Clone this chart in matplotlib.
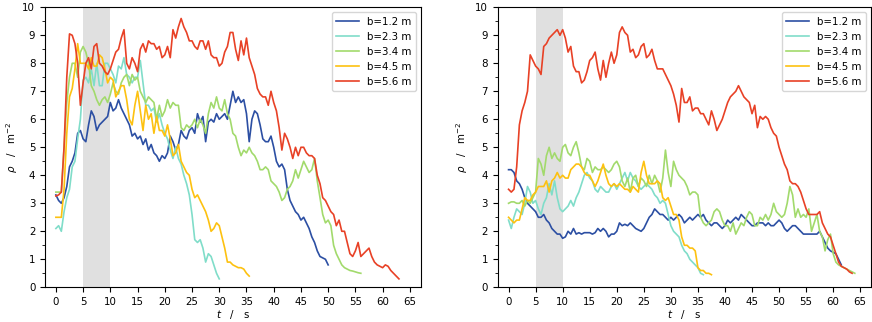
import numpy as np
import matplotlib
matplotlib.use("Agg")
import matplotlib.pyplot as plt
from matplotlib.ticker import MultipleLocator

# ---------------- data (sampled every 0.5 s, starting at t=0) ----------------
dt = 0.5
labels = ["b=1.2 m", "b=2.3 m", "b=3.4 m", "b=4.5 m", "b=5.6 m"]
colors = ["#2c4fa3", "#80ddc9", "#a2da6c", "#fdc110", "#e84126"]

# Left panel
L_b12 = [3.3, 3.1, 3.0, 3.2, 3.6, 4.3, 4.5, 4.8, 5.5, 5.6, 5.3, 5.2, 5.8, 6.3, 6.1, 5.6,
         5.8, 5.9, 6.0, 6.1, 6.6, 6.3, 6.4, 6.7, 6.4, 6.2, 6.0, 5.8, 5.4, 5.5, 5.3, 5.4,
         5.1, 5.3, 4.9, 5.1, 4.8, 4.7, 4.5, 4.7, 4.6, 4.8, 5.4, 5.2, 4.9, 5.1, 5.6, 5.4,
         5.3, 5.6, 5.7, 5.5, 6.2, 5.9, 6.1, 5.2, 5.9, 6.0, 5.9, 6.2, 6.0, 6.1, 6.2, 6.0,
         6.5, 7.0, 6.6, 6.8, 6.6, 6.7, 6.2, 5.2, 6.0, 6.3, 6.2, 5.8, 5.3, 5.2, 5.2, 5.4,
         5.0, 4.5, 4.3, 4.4, 4.2, 3.5, 3.1, 2.9, 2.7, 2.6, 2.4, 2.5, 2.3, 2.1, 1.8, 1.6,
         1.3, 1.1, 1.05, 1.0, 0.8]
L_b23 = [2.1, 2.2, 2.0, 2.7, 3.2, 3.5, 4.3, 4.5, 5.3, 6.0, 7.4, 7.5, 7.3, 7.8, 7.2, 8.0,
         7.2, 7.2, 8.0, 8.0, 7.8, 7.6, 7.3, 7.9, 7.8, 8.2, 7.6, 7.5, 7.3, 7.5, 7.5, 8.1,
         7.3, 6.5, 6.5, 6.3, 6.4, 5.9, 6.2, 5.8, 5.5, 5.3, 4.9, 4.6, 5.0, 4.6, 4.4, 4.0,
         3.7, 3.3, 2.6, 1.7, 1.6, 1.7, 1.4, 0.9, 1.2, 1.1, 0.8, 0.5, 0.3]
L_b34 = [3.4, 3.4, 3.4, 5.0, 6.6, 7.5, 8.0, 8.0, 7.5, 8.4, 8.6, 8.4, 8.0, 7.2, 7.0, 6.7,
         6.5, 6.7, 6.8, 6.6, 6.9, 7.3, 7.0, 6.9, 7.3, 7.5, 7.6, 7.2, 7.6, 7.4, 7.5, 7.0,
         6.8, 6.6, 6.8, 6.7, 6.6, 6.0, 6.5, 6.1, 6.3, 6.7, 6.4, 6.6, 6.5, 6.5, 5.7, 5.6,
         5.8, 5.7, 5.8, 6.0, 5.7, 6.0, 5.8, 5.5, 6.2, 6.6, 6.4, 6.8, 6.4, 6.3, 6.7, 6.2,
         6.0, 5.5, 5.4, 5.0, 4.7, 4.9, 4.8, 5.0, 4.8, 4.7, 4.5, 4.2, 4.2, 4.3, 4.2, 3.8,
         3.7, 3.6, 3.4, 3.1, 3.2, 3.5, 3.6, 3.8, 4.2, 3.9, 4.2, 4.5, 4.3, 4.1, 4.2, 4.6,
         3.8, 3.2, 2.6, 2.3, 2.4, 2.2, 1.5, 1.2, 1.0, 0.8, 0.7, 0.65, 0.6, 0.58, 0.55, 0.52,
         0.5]
L_b45 = [2.5, 2.5, 2.5, 3.5, 5.5, 6.8, 7.1, 7.8, 8.7, 8.0, 8.0, 8.0, 7.8, 8.2, 7.9, 7.9,
         8.3, 8.2, 7.8, 7.3, 7.5, 7.4, 6.8, 7.0, 7.2, 7.2, 6.7, 6.0, 5.8, 6.5, 7.0, 6.3,
         5.6, 6.5, 6.0, 6.2, 5.5, 6.1, 5.6, 5.6, 5.4, 5.8, 5.3, 4.7, 4.8, 5.1, 4.5, 4.3,
         4.1, 4.0, 3.5, 3.2, 3.3, 3.1, 2.9, 2.7, 2.4, 2.0, 2.1, 2.3, 2.2, 1.8, 1.4, 0.9,
         0.9, 0.8, 0.75, 0.7, 0.7, 0.65, 0.5, 0.4]
L_b56 = [3.26, 3.3, 3.4, 5.0, 7.5, 9.05, 9.0, 8.7, 8.0, 6.5, 7.3, 8.0, 8.2, 7.8, 8.6, 8.7,
         8.0, 7.9, 7.7, 7.6, 7.8, 8.1, 8.4, 8.5, 8.9, 9.2, 8.0, 7.8, 8.2, 8.0, 7.7, 8.5,
         8.7, 8.4, 8.8, 8.7, 8.7, 8.5, 8.6, 8.2, 8.3, 8.6, 8.2, 9.2, 8.9, 9.3, 9.6, 9.3,
         9.1, 8.8, 8.8, 8.6, 8.5, 8.8, 8.8, 8.5, 8.8, 8.3, 8.2, 8.2, 7.9, 8.0, 8.4, 8.6,
         9.1, 9.1, 8.5, 8.1, 8.8, 8.3, 8.9, 8.2, 7.9, 7.6, 7.1, 6.9, 6.8, 6.8, 6.5, 7.0,
         6.6, 6.3, 5.7, 4.9, 5.5, 5.3, 5.0, 4.6, 5.0, 4.7, 5.0, 5.0, 4.8, 4.7, 4.7, 4.6,
         4.0, 3.7, 3.2, 3.1, 2.9, 2.7, 2.6, 2.2, 2.4, 2.0, 2.0, 1.6, 1.2, 1.1, 1.3, 1.6,
         1.1, 1.2, 1.3, 1.4, 1.1, 0.9, 0.8, 0.75, 0.7, 0.8, 0.75, 0.6, 0.5, 0.4, 0.3]

# Right panel
R_b12 = [4.2, 4.2, 4.1, 3.8, 3.7, 3.5, 3.2, 3.0, 2.9, 2.8, 2.7, 2.5, 2.5, 2.6, 2.4, 2.3,
         2.1, 2.0, 1.9, 1.9, 1.75, 1.8, 2.0, 1.9, 2.1, 1.9, 1.95, 1.9, 1.95, 1.95, 1.95, 1.9,
         1.95, 2.1, 2.0, 2.1, 2.0, 1.8, 1.9, 1.9, 2.0, 2.3, 2.2, 2.25, 2.2, 2.3, 2.2, 2.1,
         2.05, 2.0, 2.1, 2.3, 2.5, 2.6, 2.8, 2.7, 2.6, 2.6, 2.5, 2.4, 2.5, 2.4, 2.5, 2.6,
         2.5, 2.3, 2.4, 2.5, 2.4, 2.5, 2.6, 2.5, 2.6, 2.4, 2.3, 2.2, 2.3, 2.3, 2.2, 2.1,
         2.2, 2.4, 2.3, 2.4, 2.5, 2.4, 2.6, 2.5, 2.4, 2.3, 2.2, 2.2, 2.3, 2.3, 2.3, 2.2,
         2.3, 2.2, 2.2, 2.3, 2.4, 2.3, 2.1, 2.0, 2.1, 2.2, 2.2, 2.1, 2.0, 1.9, 1.9, 1.9,
         1.9, 1.9, 1.9, 2.0, 1.8, 1.6, 1.4, 1.3, 1.25, 1.2, 1.0, 0.8]
R_b23 = [2.4, 2.1, 2.5, 2.8, 2.7, 2.6, 3.0, 3.6, 3.4, 3.0, 3.1, 2.8, 2.6, 3.0, 3.2, 3.7,
         3.3, 3.8, 3.2, 2.8, 2.7, 2.8, 2.9, 3.1, 2.9, 3.2, 3.4, 3.7, 4.0, 4.1, 3.9, 3.8,
         3.5, 3.4, 3.6, 3.5, 3.4, 3.4, 3.6, 3.7, 3.5, 3.7, 3.9, 4.1, 3.8, 4.1, 3.9, 3.8,
         3.6, 3.5, 3.6, 3.7, 3.6, 3.5, 3.3, 3.2, 3.0, 3.1, 3.0, 2.6, 2.2, 2.0, 1.9, 1.8,
         1.5, 1.3, 1.2, 1.0, 0.9, 0.8, 0.7, 0.5, 0.45]
R_b34 = [3.0, 3.05, 3.05, 3.0, 3.0, 3.1, 2.9, 3.1, 3.0, 3.2, 3.4, 4.6, 4.4, 4.0, 4.7, 5.0,
         4.6, 4.8, 4.6, 4.5, 5.0, 5.1, 4.8, 4.7, 5.0, 5.2, 4.8, 4.3, 4.2, 4.6, 4.5, 4.1,
         4.3, 4.2, 4.2, 4.3, 4.2, 4.1, 4.2, 4.4, 4.5, 4.3, 3.8, 3.6, 3.9, 3.4, 3.9, 4.0,
         3.6, 3.9, 3.8, 3.6, 4.0, 3.7, 4.0, 3.8, 3.4, 3.9, 4.9, 4.1, 3.6, 4.5, 4.2, 4.0,
         3.9, 3.8, 3.6, 3.3, 3.4, 3.4, 3.3, 2.5, 2.3, 2.2, 2.3, 2.4, 2.7, 2.8, 2.7, 2.4,
         2.2, 2.2, 2.0, 2.3, 1.9, 2.1, 2.3, 2.2, 2.5, 2.7, 2.6, 2.2, 2.2, 2.5, 2.4, 2.6,
         2.4, 2.6, 3.0, 2.7, 2.6, 2.5, 2.6, 3.0, 3.6, 3.3, 2.5, 2.8, 2.5, 2.6, 2.5, 2.8,
         2.0, 2.3, 2.6, 2.0, 1.8, 1.3, 1.7, 1.9, 1.2, 0.9, 0.8, 0.75, 0.7, 0.65, 0.6, 0.55,
         0.5]
R_b45 = [2.5, 2.4, 2.3, 2.4, 2.4, 2.8, 3.2, 3.1, 3.1, 3.3, 3.4, 3.6, 3.6, 3.6, 3.8, 3.4,
         3.8, 3.9, 4.1, 3.9, 4.0, 3.9, 3.9, 4.2, 4.3, 4.4, 4.4, 4.3, 4.1, 4.0, 4.0, 3.8,
         3.6, 3.8, 4.1, 4.4, 4.0, 3.7, 3.6, 3.7, 3.6, 3.7, 3.6, 3.5, 3.5, 3.4, 3.6, 3.5,
         3.4, 4.1, 4.5, 4.0, 3.7, 3.7, 3.7, 3.8, 3.7, 3.2, 3.1, 3.2, 2.9, 2.6, 2.6, 2.4,
         1.8, 1.5, 1.5, 1.4, 1.4, 1.3, 0.7, 0.6, 0.6, 0.5, 0.5, 0.45]
R_b56 = [3.5, 3.4, 3.5, 4.3, 5.8, 6.3, 6.6, 7.0, 8.3, 8.1, 7.9, 7.8, 7.6, 8.6, 8.7, 8.9,
         9.0, 9.1, 9.2, 9.0, 9.2, 8.9, 8.4, 8.6, 7.9, 7.7, 7.7, 7.3, 7.4, 7.7, 8.1, 8.2,
         8.4, 7.8, 7.4, 8.1, 7.5, 8.0, 8.4, 8.0, 8.3, 9.1, 9.3, 9.1, 9.0, 8.4, 8.5, 8.2,
         8.3, 8.6, 8.7, 8.2, 8.3, 8.5, 8.1, 7.8, 7.8, 7.8, 7.6, 7.4, 7.2, 6.9, 6.5, 5.9,
         7.1, 6.6, 6.6, 6.8, 6.3, 6.4, 6.4, 6.2, 6.2, 6.0, 5.8, 6.3, 6.0, 5.6, 5.8, 6.0,
         6.3, 6.6, 6.8, 6.9, 7.0, 7.2, 7.0, 6.8, 6.7, 6.6, 6.2, 6.5, 5.7, 6.1, 6.0, 6.1,
         6.0, 5.7, 5.5, 5.4, 5.0, 4.7, 4.4, 4.2, 3.8, 3.7, 3.7, 3.6, 3.4, 3.1, 2.8, 2.6,
         2.6, 2.6, 2.6, 2.7, 2.3, 2.1, 1.9, 1.8, 1.5, 1.2, 0.9, 0.75, 0.7, 0.65, 0.55, 0.5]

left_series = [L_b12, L_b23, L_b34, L_b45, L_b56]
right_series = [R_b12, R_b23, R_b34, R_b45, R_b56]

span = (5, 10)
x_ticks = list(range(0, 70, 5))
y_ticks = list(range(0, 11))

# ---------------- plot ----------------
plt.rcParams['font.family'] = ['DejaVu Sans']
plt.rcParams['font.size'] = 7.4

fig = plt.figure(figsize=(8.72, 3.22), dpi=100)
ax1 = fig.add_axes([0.0516, 0.1078, 0.4309, 0.8696])
ax2 = fig.add_axes([0.5708, 0.1078, 0.4281, 0.8696])

for ax, series, ylx in ((ax1, left_series, -0.066), (ax2, right_series, -0.073)):
    ax.axvspan(span[0], span[1], color="#e0e0e0", lw=0, zorder=0)
    for vals, lab, col in zip(series, labels, colors):
        t = np.arange(len(vals)) * dt
        ax.plot(t, vals, color=col, lw=1.2, label=lab)
    ax.set_xlim(-2, 67)
    ax.set_ylim(0, 10)
    ax.set_xticks(x_ticks)
    ax.set_yticks(y_ticks)
    ax.yaxis.set_minor_locator(MultipleLocator(0.5))
    ax.set_xlabel(r"$t$   /   s", labelpad=0.5)
    ax.set_ylabel(r"$\rho$   /   m$^{-2}$")
    ax.yaxis.set_label_coords(ylx, 0.5)
    ax.legend(loc="upper right", fontsize=7.4, handlelength=2.2, borderaxespad=0.5)

fig.savefig("out.png", dpi=100)
